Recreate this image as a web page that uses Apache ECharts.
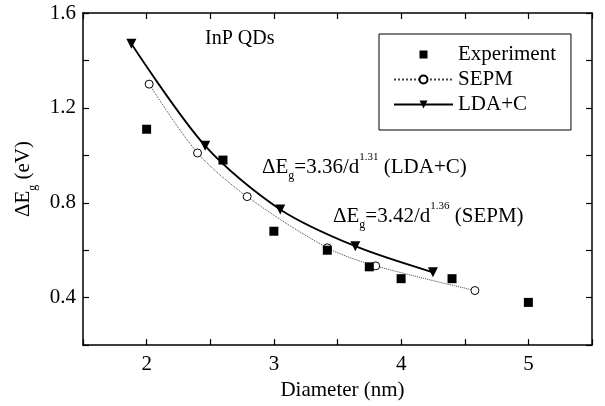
<!DOCTYPE html>
<html>
<head>
<meta charset="utf-8">
<script src="https://cdn.jsdelivr.net/npm/echarts@6/dist/echarts.min.js"></script>
<style>
    html, body { margin: 0; padding: 0; background: #fff; }
    #chart { width: 605px; height: 406px; }
</style>
</head>
<body>
<div id="chart"></div>
<script>
// data: [diameter (nm), ΔEg (eV)]
var experiment = [[2.0, 1.11], [2.6, 0.98], [3.0, 0.68], [3.42, 0.60], [3.75, 0.53], [4.0, 0.48], [4.4, 0.48], [5.0, 0.38]];
var sepm = [[2.02, 1.30], [2.40, 1.01], [2.79, 0.826], [3.42, 0.61], [3.80, 0.534], [4.58, 0.43]];
var ldac = [[1.88, 1.47], [2.46, 1.04], [3.05, 0.772], [3.64, 0.617], [4.25, 0.507]];
var xTicks = [2, 3, 4, 5];
var yTicks = [0.4, 0.8, 1.2, 1.6];

var font = 'Liberation Serif';
var chart = echarts.init(document.getElementById('chart'));

var richSubSup = {
    n: { fontFamily: font, fontSize: 21, color: '#000', lineHeight: 30 },
    sub: { fontFamily: font, fontSize: 12, color: '#000', lineHeight: 14, verticalAlign: 'bottom' },
    sup: { fontFamily: font, fontSize: 11, color: '#000', lineHeight: 14, verticalAlign: 'top' }
};

function frameAxis(pos, isX) {
    return {
        type: 'value',
        position: pos,
        min: isX ? 1.5 : 0.2,
        max: isX ? 5.5 : 1.6,
        interval: isX ? 0.5 : 0.2,
        axisLine: { show: true, onZero: false, lineStyle: { color: '#000', width: 1.5 } },
        axisTick: { show: true, inside: true, length: 6, lineStyle: { color: '#000', width: 1.2 } },
        axisLabel: { show: false },
        splitLine: { show: false }
    };
}

var xBottom = frameAxis('bottom', true);
xBottom.name = 'Diameter (nm)';
xBottom.nameLocation = 'middle';
xBottom.nameGap = 27;
xBottom.nameTextStyle = { fontFamily: font, fontSize: 21, color: '#000', verticalAlign: 'top', padding: [0, 0, 0, 10] };
xBottom.axisLabel = {
    show: true, margin: 9, fontFamily: font, fontSize: 21, color: '#000',
    formatter: function (v) { return xTicks.indexOf(v) >= 0 ? String(v) : ''; }
};

var yLeft = frameAxis('left', false);
yLeft.name = '{n|ΔE}{sub|g}{n| (eV)}';
yLeft.nameLocation = 'middle';
yLeft.nameGap = 42;
yLeft.nameTextStyle = { rich: richSubSup };
yLeft.axisLabel = {
    show: true, margin: 7, fontFamily: font, fontSize: 21, color: '#000',
    formatter: function (v) {
        var hit = yTicks.some(function (t) { return Math.abs(t - v) < 1e-6; });
        return hit ? v.toFixed(1) : '';
    }
};

var option = {
    backgroundColor: '#fff',
    animation: false,
    grid: { left: 83, right: 13, top: 13, bottom: 53 },
    xAxis: [xBottom, frameAxis('top', true)],
    yAxis: [yLeft, frameAxis('right', false)],
    legend: {
        orient: 'vertical',
        left: 379,
        top: 34,
        padding: [10, 15, 15, 14],
        itemWidth: 59,
        itemHeight: 10,
        itemGap: 4,
        backgroundColor: '#fff',
        borderColor: '#000',
        borderWidth: 1,
        textStyle: { fontFamily: font, fontSize: 21, color: '#000', lineHeight: 21 },
        data: [
            // small square centred in the wide icon slot
            { name: 'Experiment', icon: 'path://M0,0M59,0M59,10M0,10M25.5,1h8v8h-8z' },
            'SEPM',
            'LDA+C'
        ]
    },
    graphic: [
        { type: 'text', left: 205, top: 29, style: { text: 'InP QDs', fontFamily: font, fontSize: 20, fill: '#000' } },
        {
            type: 'text', left: 262, top: 152,
            style: { text: '{n|ΔE}{sub|g}{n|=3.36/d}{sup|1.31}{n| (LDA+C)}', rich: richSubSup }
        },
        {
            type: 'text', left: 333, top: 201,
            style: { text: '{n|ΔE}{sub|g}{n|=3.42/d}{sup|1.36}{n| (SEPM)}', rich: richSubSup }
        }
    ],
    series: [
        {
            name: 'Experiment',
            type: 'scatter',
            symbol: 'rect',
            symbolSize: 9,
            itemStyle: { color: '#000', opacity: 1 },
            data: experiment,
            z: 4
        },
        {
            name: 'SEPM',
            type: 'line',
            smooth: 0.3,
            symbol: 'circle',
            symbolSize: 8,
            showAllSymbol: true,
            itemStyle: { color: '#fff', borderColor: '#000', borderWidth: 1 },
            lineStyle: { color: '#444', width: 1, type: 'dotted' },
            data: sepm,
            z: 3
        },
        {
            name: 'LDA+C',
            type: 'line',
            smooth: 0.3,
            symbol: 'triangle',
            symbolRotate: 180,
            symbolSize: 10,
            showAllSymbol: true,
            itemStyle: { color: '#000' },
            lineStyle: { color: '#000', width: 1.8 },
            data: ldac,
            z: 5
        }
    ]
};
chart.setOption(option);
</script>
</body>
</html>
